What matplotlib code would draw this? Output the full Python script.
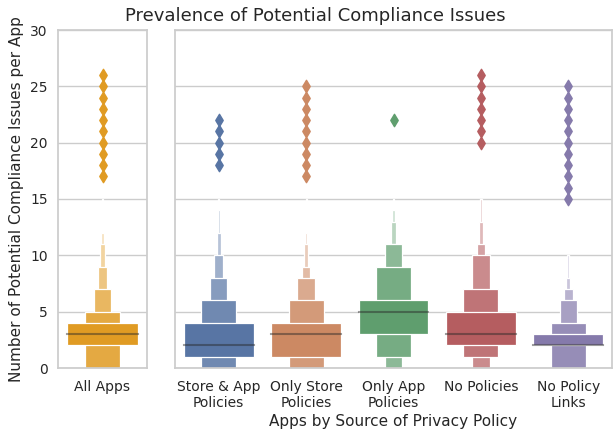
import numpy as np
import matplotlib
matplotlib.use('Agg')
import matplotlib.pyplot as plt
from matplotlib.patches import Rectangle
from matplotlib.colors import to_rgb

# ---- data (letter-value boxes, innermost = IQR first) ----
all_label = ['All Apps']
all_lower = [[2, 0, 0, 0, 0, 0, 0]]
all_upper = [[4, 5, 7, 9, 11, 12, 15]]
all_median = [3]
all_outliers = [[17, 18, 19, 20, 21, 22, 23, 24, 25, 26]]

src_labels = ['Store & App\nPolicies', 'Only Store\nPolicies', 'Only App\nPolicies',
              'No Policies', 'No Policy\nLinks']
src_lower = [[1, 0, 0, 0, 0, 0, 0],
             [1, 0, 0, 0, 0, 0, 0],
             [3, 1, 0, 0, 0, 0, 0],
             [2, 1, 0, 0, 0, 0, 0],
             [2, 0, 0, 0, 0, 0, 0]]
src_upper = [[4, 6, 8, 10, 12, 14, 15],
             [4, 6, 8, 9, 11, 12, 15],
             [6, 9, 11, 11, 13, 14, 15],
             [5, 7, 10, 11, 13, 15, 15],
             [3, 4, 6, 7, 8, 10, 10]]
src_median = [2, 3, 5, 3, 2]
src_outliers = [[18, 19, 20, 21, 22],
                [17, 18, 19, 20, 21, 22, 23, 24, 25],
                [22],
                [20, 21, 22, 23, 24, 25, 26],
                [15, 16, 17, 18, 19, 20, 21, 22, 23, 24, 25]]

all_color = ['#E09B23']
src_colors = ['#5875A4', '#CC8963', '#5F9E6E', '#B55D60', '#857AAB']

plt.rcParams['font.family'] = 'DejaVu Sans'
fig = plt.figure(figsize=(6.13, 4.34), dpi=100)
ax1 = fig.add_axes([58/613, 1-368/434, 89/613, 338/434])
ax2 = fig.add_axes([175/613, 1-368/434, 437/613, 338/434], sharey=ax1)


def boxen(ax, labels, lowers, uppers, medians, outliers, colors, width=0.8):
    for i in range(len(labels)):
        base = np.array(to_rgb(colors[i]))
        light = base + (1 - base) * 0.85
        n = len(lowers[i])
        # outermost box first, IQR last (on top)
        for lvl in range(n - 1, -1, -1):
            frac = lvl / (n - 1)
            col = base + (light - base) * frac
            w = width * 0.5 ** lvl
            ax.add_patch(Rectangle((i - w / 2, lowers[i][lvl]), w,
                                   uppers[i][lvl] - lowers[i][lvl],
                                   facecolor=col, edgecolor='white', lw=0.9, zorder=2))
        ax.plot([i - width / 2, i + width / 2], [medians[i]] * 2,
                color='.15', alpha=.45, lw=1.5, zorder=3)
        ax.scatter(np.full(len(outliers[i]), i), outliers[i], marker='d',
                   color=colors[i], s=40, zorder=3, linewidths=1, edgecolors='face')
    ax.set_xlim(-0.5, len(labels) - 0.5)
    ax.set_xticks(range(len(labels)))
    ax.set_xticklabels(labels)


boxen(ax1, all_label, all_lower, all_upper, all_median, all_outliers, all_color)
boxen(ax2, src_labels, src_lower, src_upper, src_median, src_outliers, src_colors)

for ax in (ax1, ax2):
    ax.set_ylim(0, 30)
    ax.set_yticks(range(0, 31, 5))
    ax.yaxis.grid(True, color='.8', lw=1)
    ax.set_axisbelow(True)
    for s in ax.spines.values():
        s.set_color('.8')
        s.set_linewidth(1.25)
    ax.tick_params(length=0, labelsize=10, colors='.15')
    ax.tick_params(axis='x', pad=8.5)
    ax.tick_params(axis='y', pad=7.5)

ax2.tick_params(labelleft=False)
ax1.set_ylabel('Number of Potential Compliance Issues per App', fontsize=11,
               color='.15', labelpad=4)
ax2.set_xlabel('Apps by Source of Privacy Policy', fontsize=11, color='.15', labelpad=3)
fig.text(315/613, 1-16/434, 'Prevalence of Potential Compliance Issues',
         ha='center', va='center', fontsize=13, color='.15')

fig.savefig('out.png', dpi=100)
